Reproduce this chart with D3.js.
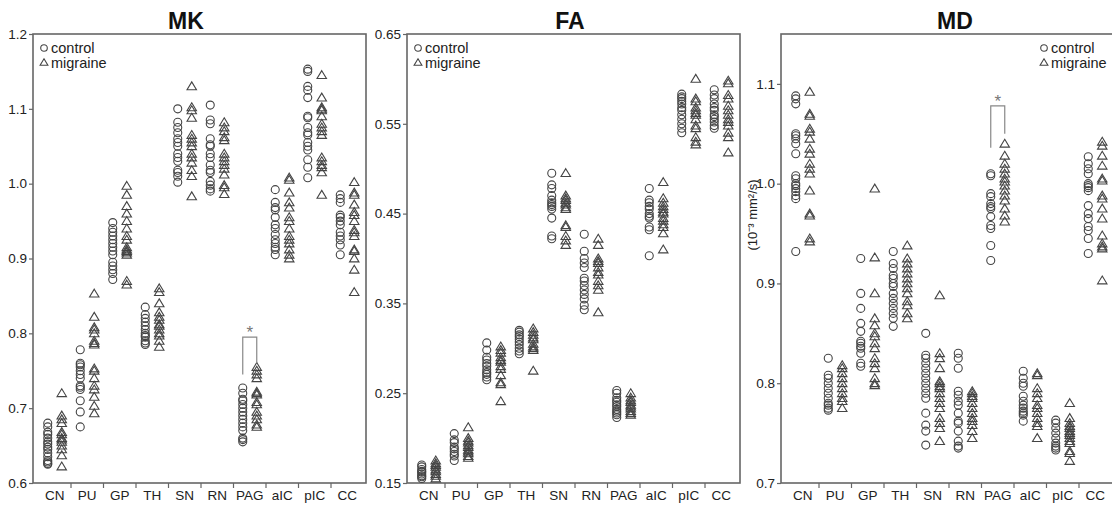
<!DOCTYPE html>
<html>
<head>
<meta charset="utf-8">
<script src="https://cdn.jsdelivr.net/npm/d3@7"></script>
<style>
  body { margin: 0; background: #fff; }
  svg { display: block; font-family: "Liberation Sans", Arial, sans-serif; }
  .frame { fill: none; stroke: #666; stroke-width: 1.6; }
  .tick line { stroke: #666; stroke-width: 1.2; }
  .tick text, .catlabel { fill: #222; font-size: 13.5px; }
  .legend text { fill: #222; font-size: 14.5px; }
  .title { font-weight: bold; font-size: 23px; fill: #111; text-anchor: middle; }
  .ctrl { fill: none; stroke: #444; stroke-width: 1.1; }
  .mig { fill: none; stroke: #444; stroke-width: 1.1; }
  .bracket { fill: none; stroke: #888; stroke-width: 1.2; }
  .star { fill: #777; font-size: 17px; text-anchor: middle; }
</style>
</head>
<body>
<svg id="chart" width="1112" height="506"></svg>
<script>
var cats = ["CN", "PU", "GP", "TH", "SN", "RN", "PAG", "aIC", "pIC", "CC"];

// MK values, one array per region
var mkControl = [
  [0.68, 0.675, 0.668, 0.665, 0.66, 0.655, 0.652, 0.648, 0.645, 0.64, 0.635, 0.63, 0.628, 0.626, 0.625],
  [0.778, 0.76, 0.758, 0.755, 0.75, 0.745, 0.74, 0.73, 0.728, 0.725, 0.71, 0.695, 0.675],
  [0.948, 0.94, 0.935, 0.93, 0.925, 0.92, 0.915, 0.91, 0.905, 0.895, 0.89, 0.885, 0.88, 0.872],
  [0.835, 0.825, 0.82, 0.815, 0.81, 0.805, 0.8, 0.797, 0.795, 0.79, 0.787, 0.785],
  [1.1, 1.082, 1.075, 1.068, 1.06, 1.055, 1.05, 1.04, 1.035, 1.03, 1.018, 1.015, 1.01, 1.002],
  [1.105, 1.085, 1.08, 1.06, 1.052, 1.05, 1.04, 1.035, 1.025, 1.018, 1.015, 1.003, 0.998, 0.993, 0.99],
  [0.727, 0.72, 0.712, 0.71, 0.705, 0.7, 0.695, 0.69, 0.685, 0.68, 0.675, 0.67, 0.66, 0.658, 0.655],
  [0.992, 0.975, 0.968, 0.965, 0.955, 0.945, 0.94, 0.932, 0.925, 0.92, 0.915, 0.912, 0.905],
  [1.153, 1.15, 1.13, 1.125, 1.115, 1.09, 1.088, 1.075, 1.068, 1.065, 1.055, 1.05, 1.045, 1.032, 1.022, 1.008],
  [0.985, 0.98, 0.975, 0.958, 0.955, 0.95, 0.945, 0.935, 0.93, 0.925, 0.918, 0.905]
];
var mkMigraine = [
  [0.72, 0.69, 0.685, 0.68, 0.668, 0.665, 0.66, 0.658, 0.655, 0.65, 0.645, 0.637, 0.622],
  [0.853, 0.822, 0.808, 0.805, 0.8, 0.79, 0.787, 0.785, 0.753, 0.75, 0.74, 0.73, 0.725, 0.715, 0.703, 0.693],
  [0.997, 0.985, 0.97, 0.96, 0.95, 0.94, 0.93, 0.925, 0.915, 0.912, 0.91, 0.908, 0.905, 0.87, 0.865],
  [0.86, 0.855, 0.84, 0.828, 0.822, 0.818, 0.812, 0.81, 0.805, 0.8, 0.797, 0.79, 0.782],
  [1.13, 1.102, 1.098, 1.088, 1.065, 1.06, 1.055, 1.05, 1.04, 1.035, 1.028, 1.018, 1.01, 0.983],
  [1.082, 1.075, 1.07, 1.062, 1.058, 1.04, 1.035, 1.03, 1.025, 1.02, 1.012, 0.998, 0.995, 0.986],
  [0.755, 0.75, 0.745, 0.74, 0.722, 0.72, 0.718, 0.708, 0.705, 0.695, 0.69, 0.685, 0.678, 0.675],
  [1.008, 1.005, 0.988, 0.975, 0.968, 0.955, 0.95, 0.94, 0.93, 0.925, 0.92, 0.912, 0.905, 0.9],
  [1.145, 1.115, 1.102, 1.1, 1.098, 1.09, 1.08, 1.075, 1.07, 1.065, 1.035, 1.03, 1.025, 1.022, 1.015, 0.985],
  [1.002, 0.988, 0.985, 0.972, 0.962, 0.958, 0.95, 0.938, 0.935, 0.93, 0.912, 0.91, 0.9, 0.885, 0.855]
];

// FA values
var faControl = [
  [0.17, 0.168, 0.165, 0.163, 0.162, 0.16, 0.158, 0.157, 0.155],
  [0.205, 0.198, 0.195, 0.19, 0.188, 0.185, 0.182, 0.18, 0.175],
  [0.306, 0.298, 0.29, 0.287, 0.283, 0.28, 0.276, 0.273, 0.271, 0.268, 0.265],
  [0.32, 0.318, 0.315, 0.313, 0.31, 0.307, 0.304, 0.3, 0.297, 0.294],
  [0.495, 0.482, 0.478, 0.47, 0.465, 0.462, 0.46, 0.458, 0.455, 0.445, 0.425, 0.422],
  [0.427, 0.408, 0.4, 0.395, 0.39, 0.378, 0.375, 0.37, 0.365, 0.36, 0.355, 0.348, 0.343],
  [0.253, 0.25, 0.245, 0.242, 0.24, 0.237, 0.235, 0.232, 0.23, 0.228, 0.226, 0.223],
  [0.478, 0.465, 0.462, 0.458, 0.455, 0.45, 0.447, 0.445, 0.435, 0.432, 0.403],
  [0.583, 0.58, 0.578, 0.575, 0.572, 0.568, 0.565, 0.56, 0.555, 0.55, 0.545, 0.54],
  [0.588, 0.582, 0.578, 0.572, 0.568, 0.565, 0.56, 0.558, 0.555, 0.552, 0.548, 0.545]
];
var faMigraine = [
  [0.175, 0.172, 0.17, 0.168, 0.165, 0.163, 0.16, 0.158, 0.155],
  [0.212, 0.2, 0.197, 0.195, 0.192, 0.19, 0.187, 0.185, 0.183, 0.18, 0.178],
  [0.302, 0.298, 0.295, 0.29, 0.287, 0.285, 0.28, 0.277, 0.27, 0.262, 0.26, 0.241],
  [0.322, 0.318, 0.315, 0.312, 0.31, 0.305, 0.302, 0.3, 0.298, 0.275],
  [0.495, 0.47, 0.467, 0.465, 0.462, 0.46, 0.457, 0.455, 0.437, 0.435, 0.425, 0.42, 0.415],
  [0.422, 0.415, 0.4, 0.397, 0.395, 0.39, 0.385, 0.382, 0.375, 0.37, 0.365, 0.34],
  [0.25, 0.245, 0.242, 0.24, 0.237, 0.235, 0.233, 0.23, 0.228, 0.226],
  [0.485, 0.467, 0.462, 0.458, 0.455, 0.452, 0.45, 0.445, 0.442, 0.438, 0.435, 0.428, 0.41],
  [0.6, 0.578, 0.575, 0.568, 0.565, 0.562, 0.56, 0.555, 0.548, 0.545, 0.535, 0.53, 0.527],
  [0.598, 0.595, 0.582, 0.578, 0.57, 0.565, 0.56, 0.555, 0.552, 0.548, 0.54, 0.535, 0.518]
];

// MD values (10^-3 mm2/s)
var mdControl = [
  [1.088, 1.085, 1.08, 1.05, 1.048, 1.045, 1.04, 1.03, 1.008, 1.005, 1.0, 0.998, 0.995, 0.992, 0.988, 0.985, 0.932],
  [0.825, 0.808, 0.805, 0.8, 0.795, 0.79, 0.785, 0.78, 0.778, 0.775, 0.773],
  [0.925, 0.89, 0.875, 0.86, 0.852, 0.842, 0.84, 0.837, 0.835, 0.83, 0.82, 0.817],
  [0.932, 0.92, 0.915, 0.908, 0.905, 0.9, 0.897, 0.89, 0.885, 0.88, 0.875, 0.87, 0.865, 0.857],
  [0.85, 0.828, 0.825, 0.82, 0.815, 0.81, 0.805, 0.8, 0.795, 0.79, 0.785, 0.77, 0.758, 0.752, 0.738],
  [0.83, 0.825, 0.815, 0.792, 0.788, 0.782, 0.778, 0.77, 0.762, 0.76, 0.752, 0.742, 0.737, 0.735],
  [1.01, 1.008, 0.99, 0.987, 0.98, 0.977, 0.975, 0.967, 0.958, 0.955, 0.938, 0.923],
  [0.812, 0.805, 0.8, 0.797, 0.787, 0.782, 0.778, 0.775, 0.772, 0.77, 0.768, 0.762],
  [0.763, 0.76, 0.755, 0.75, 0.745, 0.74, 0.737, 0.735, 0.733],
  [1.027, 1.02, 1.015, 1.01, 1.0, 0.998, 0.996, 0.993, 0.978, 0.97, 0.965, 0.957, 0.953, 0.945, 0.93]
];
var mdMigraine = [
  [1.092, 1.07, 1.068, 1.055, 1.052, 1.045, 1.035, 1.03, 1.02, 1.015, 1.01, 0.993, 0.97, 0.968, 0.945, 0.942],
  [0.818, 0.815, 0.81, 0.805, 0.8, 0.795, 0.79, 0.785, 0.782, 0.775],
  [0.995, 0.926, 0.89, 0.865, 0.858, 0.85, 0.847, 0.84, 0.835, 0.825, 0.82, 0.815, 0.805, 0.8, 0.798],
  [0.938, 0.925, 0.92, 0.915, 0.91, 0.905, 0.9, 0.895, 0.89, 0.882, 0.878, 0.87, 0.865],
  [0.888, 0.83, 0.825, 0.815, 0.802, 0.8, 0.797, 0.795, 0.79, 0.785, 0.78, 0.775, 0.765, 0.76, 0.755, 0.742],
  [0.792, 0.79, 0.787, 0.785, 0.78, 0.775, 0.77, 0.765, 0.762, 0.758, 0.752, 0.745],
  [1.04, 1.028, 1.02, 1.015, 1.01, 1.005, 1.002, 0.998, 0.993, 0.988, 0.983, 0.975, 0.968, 0.962],
  [0.81, 0.808, 0.795, 0.79, 0.785, 0.778, 0.775, 0.77, 0.765, 0.76, 0.757, 0.745],
  [0.78, 0.765, 0.76, 0.757, 0.755, 0.752, 0.75, 0.748, 0.745, 0.742, 0.74, 0.732, 0.73, 0.722],
  [1.042, 1.038, 1.028, 1.018, 1.005, 1.003, 0.988, 0.985, 0.975, 0.965, 0.948, 0.94, 0.937, 0.935, 0.903]
];

var mkTicks = ["0.6", "0.7", "0.8", "0.9", "1.0", "1.1", "1.2"];
var faTicks = ["0.15", "0.25", "0.35", "0.45", "0.55", "0.65"];
var mdTicks = ["0.7", "0.8", "0.9", "1.0", "1.1"];

// PAG significance: [top, left leg end, right leg end]
var mkBracket = [0.795, 0.745, 0.76];
var mdBracket = [1.078, 1.036, 1.05];

var plotTop = 34, plotBottom = 483, panelW = 333;
var svg = d3.select("#chart");

var panels = [
  { title: "MK", left: 33, titleX: 186, domain: [0.6, 1.2], ticks: mkTicks,
    ctrl: mkControl, mig: mkMigraine, legend: 11, bracket: mkBracket },
  { title: "FA", left: 407, titleX: 570, domain: [0.15, 0.65], ticks: faTicks,
    ctrl: faControl, mig: faMigraine, legend: 11, bracket: null },
  { title: "MD", left: 781, titleX: 955, domain: [0.7, 1.15], ticks: mdTicks,
    ctrl: mdControl, mig: mdMigraine, legend: 263, bracket: mdBracket, unit: "(10\u207B\u00B3 mm\u00B2/s)" }
];

function triangle(s) {
  return "M0," + (-s) + "L" + (s*1.05) + "," + (s*0.75) + "L" + (-s*1.05) + "," + (s*0.75) + "Z";
}

panels.forEach(drawPanel);

function drawPanel(p) {
  var g = svg.append("g").attr("transform", "translate(" + p.left + ",0)");

  var y = d3.scaleLinear().domain(p.domain).range([plotBottom, plotTop]);
  var x = d3.scaleBand().domain(cats).range([5.5, panelW - 2.5]);
  var off = 7;

  g.append("text").attr("class", "title")
  .attr("x", p.titleX - p.left).attr("y", 29)
  .text(p.title);

  var yAxis = d3.axisLeft(y)
  .tickValues(p.ticks.map(Number))
  .tickFormat(function(d, i) { return p.ticks[i]; })
  .tickSize(4).tickPadding(2);
  var ga = g.append("g").call(yAxis);
  ga.select(".domain").remove();
  ga.selectAll("text").attr("font-size", null).attr("font-family", null);

  g.append("rect").attr("class", "frame")
  .attr("x", 0).attr("y", plotTop)
  .attr("width", panelW).attr("height", plotBottom - plotTop);

  // category separators under the axis
  g.selectAll("line.sep").data(cats.slice(1)).enter()
  .append("line").attr("class", "sep")
  .attr("x1", function(d) { return x(d); }).attr("x2", function(d) { return x(d); })
  .attr("y1", plotBottom).attr("y2", plotBottom + 5)
  .attr("stroke", "#666").attr("stroke-width", 1.2);

  g.selectAll("text.catlabel").data(cats).enter()
  .append("text").attr("class", "catlabel")
  .attr("x", function(d) { return x(d) + x.bandwidth()/2; })
  .attr("y", 500).attr("text-anchor", "middle")
  .text(function(d) { return d; });

  var ctrlPts = [], migPts = [];
  cats.forEach(function(c, i) {
    p.ctrl[i].forEach(function(v) { ctrlPts.push({ cat: c, v: v }); });
    p.mig[i].forEach(function(v) { migPts.push({ cat: c, v: v }); });
  });

  g.selectAll("circle.ctrl").data(ctrlPts).enter()
  .append("circle").attr("class", "ctrl")
  .attr("cx", function(d) { return x(d.cat) + x.bandwidth()/2 - off; })
  .attr("cy", function(d) { return y(d.v); })
  .attr("r", 4);

  g.selectAll("path.mig").data(migPts).enter()
  .append("path").attr("class", "mig")
  .attr("d", triangle(4.5))
  .attr("transform", function(d) {
    return "translate(" + (x(d.cat) + x.bandwidth()/2 + off) + "," + y(d.v) + ")";
  });

  if (p.bracket) {
    var xl = x("PAG") + x.bandwidth()/2 - off, xr = x("PAG") + x.bandwidth()/2 + off;
    g.append("path").attr("class", "bracket")
    .attr("d", "M" + xl + "," + y(p.bracket[1]) + "V" + y(p.bracket[0]) +
               "H" + xr + "V" + y(p.bracket[2]));
    g.append("text").attr("class", "star")
    .attr("x", (xl + xr)/2).attr("y", y(p.bracket[0]) + 1)
    .text("*");
  }

  var lg = g.append("g").attr("class", "legend")
  .attr("transform", "translate(" + p.legend + ",0)");
  lg.append("circle").attr("class", "ctrl").attr("cx", 0).attr("cy", 48).attr("r", 3.3);
  lg.append("path").attr("class", "mig").attr("d", triangle(3.7))
  .attr("transform", "translate(0,62.5)");
  lg.append("text").attr("x", 7).attr("y", 53).text("control");
  lg.append("text").attr("x", 7).attr("y", 67.5).text("migraine");

  if (p.unit) {
    g.append("text").attr("class", "unit")
    .attr("transform", "translate(-24,215) rotate(-90)")
    .attr("text-anchor", "middle")
    .style("font-size", "13px").style("fill", "#222")
    .text(p.unit);
  }
}
</script>
</body>
</html>
